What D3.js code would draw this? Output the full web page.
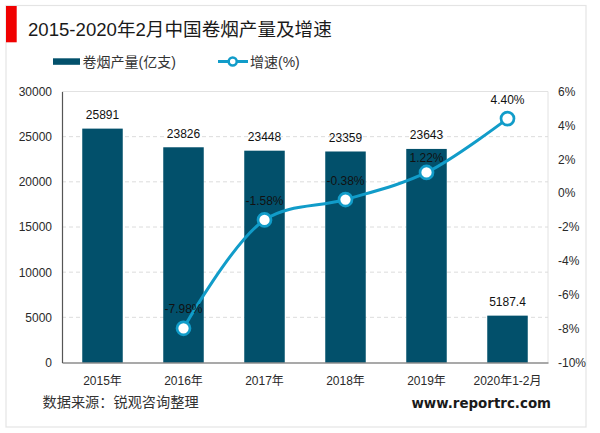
<!DOCTYPE html>
<html>
<head>
<meta charset="utf-8">
<script src="https://cdn.jsdelivr.net/npm/d3@7/dist/d3.min.js"></script>
<style>
html, body { margin: 0; padding: 0; background: #fff; }
text { font-family: "Liberation Sans", "Noto Sans CJK SC", sans-serif; }
</style>
</head>
<body>
<div id="chart"></div>
<script>
const width = 600;
const height = 433;

const categories = ["2015年", "2016年", "2017年", "2018年", "2019年", "2020年1-2月"];
const output = [25891, 23826, 23448, 23359, 23643, 5187.4];
const outputLabels = ["25891", "23826", "23448", "23359", "23643", "5187.4"];
const growth = [null, -7.98, -1.58, -0.38, 1.22, 4.40];
const growthLabels = [null, "-7.98%", "-1.58%", "-0.38%", "1.22%", "4.40%"];
const leftTicks = [0, 5000, 10000, 15000, 20000, 25000, 30000];
const rightTicks = [-10, -8, -6, -4, -2, 0, 2, 4, 6];

const barColor = "#02506b";
const lineColor = "#119cc9";
const textColor = "#2a2a2a";

const marginLeft = 62;
const marginRight = 52;
const marginTop = 91.5;
const marginBottom = 70.5;

const svg = d3.select("#chart").append("svg")
  .attr("width", width)
  .attr("height", height)
  .style("display", "block");

// card border
svg.append("rect")
  .attr("x", 6).attr("y", 5.5)
  .attr("width", 580).attr("height", 421.5)
  .attr("fill", "#fff")
  .attr("stroke", "#e4e4e4")
  .attr("stroke-width", 1.2);

svg.append("rect")
  .attr("x", 6).attr("y", 6)
  .attr("width", 10.7).attr("height", 36.3)
  .attr("fill", "#f00000");

svg.append("text")
  .text("2015-2020年2月中国卷烟产量及增速")
  .attr("x", 28).attr("y", 36)
  .attr("font-size", 18.6)
  .attr("fill", "#1a1a1a");

const x = d3.scaleBand()
  .domain(categories)
  .range([marginLeft, width - marginRight])
  .paddingInner(0.5)
  .paddingOuter(0.25);

const yLeft = d3.scaleLinear()
  .domain([0, 30000])
  .range([height - marginBottom, marginTop]);

const yRight = d3.scaleLinear()
  .domain([-10, 6])
  .range([height - marginBottom, marginTop]);

const center = (c) => x(c) + x.bandwidth() / 2;

// plot frame and gridlines
svg.append("path")
  .attr("d", `M${marginLeft},${marginTop}H${width - marginRight}V${height - marginBottom}`)
  .attr("fill", "none")
  .attr("stroke", "#e2e2e2");

svg.append("g")
  .selectAll("line")
  .data(leftTicks.filter((d) => d > 0 && d < 30000))
  .join("line")
  .attr("x1", marginLeft)
  .attr("x2", width - marginRight)
  .attr("y1", (d) => yLeft(d))
  .attr("y2", (d) => yLeft(d))
  .attr("stroke", "#dcdcdc")
  .attr("stroke-dasharray", "4 3");

// bars
svg.append("g")
  .selectAll("rect")
  .data(output)
  .join("rect")
  .attr("x", (d, i) => x(categories[i]))
  .attr("y", (d) => yLeft(d))
  .attr("width", x.bandwidth())
  .attr("height", (d) => yLeft(0) - yLeft(d))
  .attr("fill", barColor);

// axes
const axisLeft = svg.append("g")
  .attr("transform", `translate(${marginLeft},0)`)
  .call(d3.axisLeft(yLeft).tickValues(leftTicks).tickSize(0).tickPadding(10).tickFormat(d3.format("d")));
axisLeft.select(".domain").attr("stroke", "#555").attr("stroke-width", 1.2);

const axisBottom = svg.append("g")
  .attr("transform", `translate(0,${height - marginBottom})`)
  .call(d3.axisBottom(x).tickSize(0).tickPadding(14));
axisBottom.select(".domain").attr("stroke", "#555").attr("stroke-width", 1.2);

const axisRight = svg.append("g")
  .attr("transform", `translate(${width - marginRight},0)`)
  .call(d3.axisRight(yRight).tickValues(rightTicks).tickSize(0).tickPadding(10).tickFormat((d) => `${d}%`));
axisRight.select(".domain").remove();

svg.selectAll("g text")
  .attr("font-size", 12)
  .attr("font-family", null)
  .attr("fill", textColor);

// growth line
const points = categories
  .map((c, i) => ({ c, v: growth[i], label: growthLabels[i] }))
  .filter((d) => d.v !== null);

svg.append("path")
  .datum(points)
  .attr("fill", "none")
  .attr("stroke", lineColor)
  .attr("stroke-width", 3)
  .attr("d", d3.line()
    .x((d) => center(d.c))
    .y((d) => yRight(d.v))
    .curve(d3.curveCatmullRom.alpha(0.5)));

svg.append("g")
  .selectAll("circle")
  .data(points)
  .join("circle")
  .attr("cx", (d) => center(d.c))
  .attr("cy", (d) => yRight(d.v))
  .attr("r", 6.5)
  .attr("fill", "#fff")
  .attr("stroke", lineColor)
  .attr("stroke-width", 2.7);

// data labels
svg.append("g")
  .selectAll("text")
  .data(outputLabels)
  .join("text")
  .text((d) => d)
  .attr("x", (d, i) => center(categories[i]))
  .attr("y", (d, i) => yLeft(output[i]) - 9.5)
  .attr("text-anchor", "middle")
  .attr("font-size", 12)
  .attr("fill", "#111");

// the 1.22% label sits closer to its marker than the others
svg.append("g")
  .selectAll("text")
  .data(points)
  .join("text")
  .text((d) => d.label)
  .attr("x", (d) => center(d.c))
  .attr("y", (d) => yRight(d.v) - (d.label === "1.22%" ? 10.5 : 15))
  .attr("text-anchor", "middle")
  .attr("font-size", 12)
  .attr("fill", "#111");

// legend
svg.append("rect")
  .attr("x", 53).attr("y", 58.3)
  .attr("width", 27).attr("height", 6.5)
  .attr("fill", barColor);

svg.append("text")
  .text("卷烟产量(亿支)")
  .attr("x", 82.5).attr("y", 66.5)
  .attr("font-size", 14)
  .attr("fill", "#333");

svg.append("line")
  .attr("x1", 218).attr("x2", 248)
  .attr("y1", 61.5).attr("y2", 61.5)
  .attr("stroke", lineColor)
  .attr("stroke-width", 3);

svg.append("circle")
  .attr("cx", 232.7).attr("cy", 61.5)
  .attr("r", 4)
  .attr("fill", "#fff")
  .attr("stroke", lineColor)
  .attr("stroke-width", 2.5);

svg.append("text")
  .text("增速(%)")
  .attr("x", 250).attr("y", 66.5)
  .attr("font-size", 14)
  .attr("fill", "#333");

// source and site
svg.append("text")
  .text("数据来源：锐观咨询整理")
  .attr("x", 42.5).attr("y", 407)
  .attr("font-size", 14.2)
  .attr("fill", "#333");

svg.append("text")
  .text("www.reportrc.com")
  .attr("x", 411.5).attr("y", 408)
  .attr("font-size", 13.4)
  .attr("font-weight", "bold")
  .style("font-family", '"DejaVu Sans", sans-serif')
  .attr("fill", "#1a1a1a");
</script>
</body>
</html>
